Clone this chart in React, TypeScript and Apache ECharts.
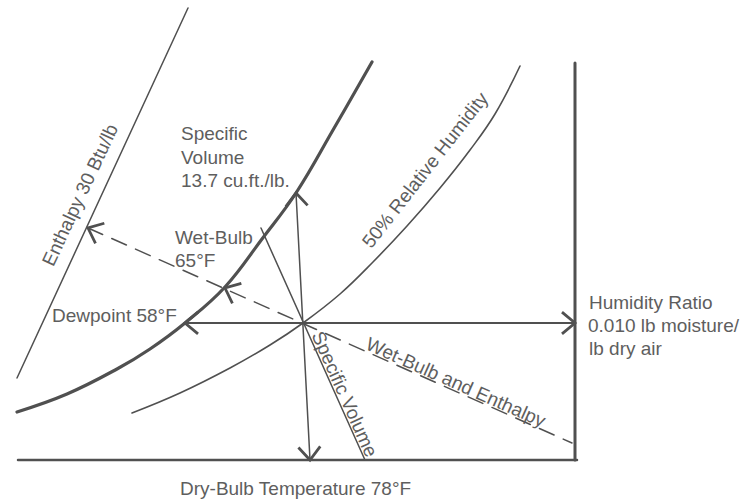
import React, { useEffect, useRef } from "react";
import * as echarts from "echarts";

// Diagram coordinates: x grows to the right, y grows downward (1 unit = 1 px of the sketch).
const saturationCurve: number[][] = [
  [17, 412], [67, 394], [117, 369], [150, 349], [185, 323], [225, 287],
  [262, 239], [296, 193], [333, 130], [372, 62],
];
const relativeHumidity50: number[][] = [
  [132, 413], [180, 393], [230, 368], [270, 345], [303, 323], [340, 294],
  [373, 262], [407, 226], [440, 188], [470, 150], [495, 114], [520, 66],
];
const enthalpyLine: number[][] = [[188, 8], [17, 378]];
const wetBulbEnthalpyLine: number[][] = [[88, 228], [572, 443]];
const humidityRatioLine: number[][] = [[185, 323], [575, 323]];
const dryBulbLine: number[][] = [[296, 193], [310, 460]];
const specificVolumeLine: number[][] = [[261, 228], [365, 460]];
const baseAxisLine: number[][] = [[18, 460], [577, 460]];
const ratioAxisLine: number[][] = [[575, 63], [575, 460]];
const statePoint: number[] = [303, 323];

// Arrow tips (each arrow points away from the state point)
const arrowTips: number[][] = [
  [88, 228], [225, 288], [185, 323], [575, 323], [296, 193], [310, 460],
];

// Labels
const labelTexts: string[] = [
  "Specific", "Volume", "13.7 cu.ft./lb.",
  "Wet-Bulb", "65°F",
  "Dewpoint 58°F",
  "Humidity Ratio", "0.010 lb moisture/", "lb dry air",
  "Dry-Bulb Temperature 78°F",
  "Enthalpy 30 Btu/lb",
  "50% Relative Humidity",
  "Wet-Bulb and Enthalpy",
  "Specific Volume",
];
const labelAnchors: number[][] = [
  [181, 133], [181, 157], [181, 180],
  [175, 237], [175, 260],
  [52, 315],
  [589, 302], [588, 325], [589, 348],
  [180, 488],
  [80, 195],
  [425, 170],
  [452, 391],
  [336, 398],
];
const labelAngles: number[] = [0, 0, 0, 0, 0, 0, 0, 0, 0, 0, 65, 52, -24, -66];
const labelAlign: string[] = [
  "left", "left", "left", "left", "left", "left", "left", "left", "left", "left",
  "center", "center", "center", "center",
];
const labelVAlign: string[] = [
  "middle", "middle", "middle", "middle", "middle", "middle", "middle", "middle", "middle", "middle",
  "middle", "middle", "bottom", "bottom",
];

const LINE = "#505050";
const TEXT = "#5e5e5e";
const FONT = "19px 'Liberation Sans', Arial, sans-serif";

function lineSeries(data: number[][], width: number, extra: any = {}) {
  return {
    type: "line",
    data,
    symbol: "none",
    silent: true,
    clip: false,
    smooth: extra.smooth ?? false,
    lineStyle: { color: LINE, width, type: extra.type ?? "solid", cap: "round" },
    z: 2,
  };
}

export default function App() {
  const ref = useRef<HTMLDivElement>(null);

  useEffect(() => {
    if (!ref.current) return;
    const chart = echarts.init(ref.current, undefined, { renderer: "svg" });
    const option: any = {
      animation: false,
      backgroundColor: "#ffffff",
      grid: { left: 0, right: 0, top: 0, bottom: 0 },
      xAxis: { type: "value", min: 0, max: 744, show: false },
      yAxis: { type: "value", min: 0, max: 499, inverse: true, show: false },
      series: [
        lineSeries(baseAxisLine, 2.5),
        lineSeries(ratioAxisLine, 3),
        lineSeries(enthalpyLine, 1.5),
        lineSeries(saturationCurve, 3.2, { smooth: 0.4 }),
        lineSeries(relativeHumidity50, 1.6, { smooth: 0.4 }),
        lineSeries(wetBulbEnthalpyLine, 1.5, { type: [16, 10] }),
        lineSeries(humidityRatioLine, 2),
        lineSeries(dryBulbLine, 1.5),
        lineSeries(specificVolumeLine, 1.5),
        {
          type: "custom",
          silent: true,
          clip: false,
          z: 3,
          data: arrowTips,
          renderItem: (params: any, api: any) => {
            const tip = api.coord([api.value(0), api.value(1)]);
            const origin = api.coord(statePoint);
            const dx = tip[0] - origin[0];
            const dy = tip[1] - origin[1];
            const len = Math.hypot(dx, dy) || 1;
            const bx = -dx / len;
            const by = -dy / len;
            const a = (40 * Math.PI) / 180;
            const L = 17;
            const rot = (s: number) => [
              tip[0] + L * (bx * Math.cos(s * a) - by * Math.sin(s * a)),
              tip[1] + L * (bx * Math.sin(s * a) + by * Math.cos(s * a)),
            ];
            return {
              type: "polyline",
              shape: { points: [rot(1), tip, rot(-1)] },
              style: { stroke: LINE, lineWidth: 2.8, fill: null, lineJoin: "miter" },
            };
          },
        },
        {
          type: "custom",
          silent: true,
          clip: false,
          z: 4,
          data: labelAnchors.map((p, i) => [p[0], p[1], i]),
          renderItem: (params: any, api: any) => {
            const i = api.value(2);
            const pt = api.coord([api.value(0), api.value(1)]);
            return {
              type: "text",
              x: pt[0],
              y: pt[1],
              rotation: (labelAngles[i] * Math.PI) / 180,
              style: {
                text: labelTexts[i],
                fill: TEXT,
                font: FONT,
                align: labelAlign[i],
                verticalAlign: labelVAlign[i],
              },
            };
          },
        },
      ],
    };
    chart.setOption(option);
    return () => chart.dispose();
  }, []);

  return (
    <div
      ref={ref}
      style={{ position: "fixed", left: 0, top: 0, width: 744, height: 499, background: "#fff" }}
    />
  );
}
